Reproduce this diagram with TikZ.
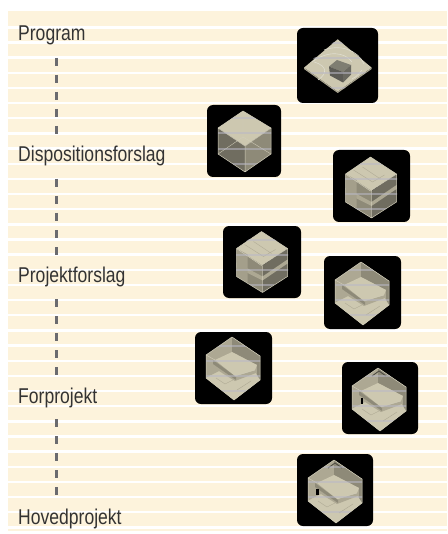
\documentclass[tikz,border=0pt]{standalone}
\usepackage{fontspec}
\setmainfont[FakeStretch=0.82]{Liberation Sans}
\definecolor{paper}{HTML}{FDF3DC}
\definecolor{ink}{HTML}{333333}
\definecolor{spinec}{HTML}{6B6B6F}
\definecolor{lt}{HTML}{CDC8B0}
\definecolor{md}{HTML}{ADA893}
\definecolor{wl}{HTML}{8E8A78}
\definecolor{dk}{HTML}{706D60}
\definecolor{edge}{HTML}{D2CEBA}
\definecolor{band}{HTML}{B9B9C6}
\definecolor{blocktop}{HTML}{7F7E72}
\definecolor{blockleft}{HTML}{5C5B55}
\definecolor{blockright}{HTML}{6A6960}
\tikzset{
 stage/.style={anchor=base west,inner sep=0pt,font=\fontsize{21.4}{23}\selectfont,text=ink},
 imgbox/.style={draw=none,fill=black,rounded corners=6pt,inner sep=0pt},
 spine/.style={draw=spinec,line width=3pt,dash pattern=on 8.4pt off 8.6pt},
 ln/.style={draw=edge,line width=0.5pt,line join=round},
}
% closed translucent cube, centred (#1,#2)
\newcommand{\solidcube}[2]{\begin{scope}[shift={(#1,#2)}]
 \fill[lt] (-1,-31)--(-26,-14)--(1,4)--(27,-14)--cycle;
 \fill[dk] (-26,-14)--(-26,12)--(1,30)--(1,4)--cycle;
 \fill[wl] (27,-14)--(27,12)--(1,30)--(1,4)--cycle;
 \draw[ln] (-1,-31)--(-26,-14)--(-26,12)--(1,30)--(27,12)--(27,-14)--cycle
   (-26,-14)--(1,4)--(27,-14) (1,4)--(1,30);
 \draw[ln,line width=.35pt] (-1,-31)--(-1,-5)--(-26,12) (-1,-5)--(27,12);
\end{scope}}
% cube with a visible floor line
\newcommand{\floorcube}[2]{\begin{scope}[shift={(#1,#2)}]
 \fill[lt] (0,-31)--(-25,-14)--(0,3)--(26,-14)--cycle;
 \fill[wl] (-25,-14)--(-25,14)--(1,30)--(1,3)--cycle;
 \fill[dk] (26,-14)--(26,14)--(1,30)--(1,3)--cycle;
 \fill[md] (-25,0)--(1,14)--(26,-3)--(26,1)--(1,18)--(-25,5)--cycle;
 \fill[md!70!wl] (-25,-14)--(-14,-8)--(-14,20)--(-25,14)--cycle;
 \draw[ln] (0,-31)--(-25,-14)--(-25,14)--(1,30)--(26,14)--(26,-14)--cycle
   (-25,-14)--(0,3)--(26,-14) (1,3)--(1,30);
 \draw[md,line width=.35pt] (-17,-18)--(2,-6)--(14,-13) (-8,-21)--(10,-9);
\end{scope}}
% open room: mezzanine over lower floor
\newcommand{\openroom}[2]{\begin{scope}[shift={(#1,#2)}]
 \fill[md] (-1,-31)--(-27,-13)--(-27,10)--(1,32)--(27,12)--(27,-12)--cycle;
 \fill[wl] (-1,-31)--(27,-12)--(27,12)--(24,9)--(24,-3)--(-1,-16)--cycle;
 \fill[lt] (-27,10)--(-14,2)--(2,12)--(22,4)--(27,12)--(1,32)--cycle;
 \fill[md] (-18,-7)--(2,8)--(22,2)--(23,5)--(2,13)--(-14,3)--(-22,7)--(-22,-3)--cycle;
 \fill[lt] (-1,-16)--(24,-3)--(22,2)--(2,8)--(-18,-8)--cycle;
 \fill[wl] (-20,-8)--(3,9)--(3,12)--(-20,-4)--cycle;
 \draw[ln] (-1,-31)--(-27,-13)--(-27,10)--(1,32)--(27,12)--(27,-12)--cycle;
 \draw[ln,line width=.4pt] (-27,-13)--(-18,-8) (2,8)--(22,2);
 \draw[md,line width=.4pt] (-17,10)--(-8,16)--(0,12) (4,22)--(18,13);
\end{scope}}
\begin{document}
\begin{tikzpicture}[x=1pt,y=-1pt]
\useasboundingbox (0,0) rectangle (447,534);
\fill[white] (0,0) rectangle (447,534);
\fill[paper] (8,11) rectangle (447,531);
\foreach \k in {0,...,33}{
  \pgfmathsetmacro{\yy}{27.4+15.15*\k}
  \fill[white] (8,\yy-1.2) rectangle (447,\yy+1.2);
}
\node[stage] (prog) at (18,40.5) {Program};
\node[stage] (disp) at (18,161.5) {Dispositionsforslag};
\node[stage] (proj) at (18,282.5) {Projektforslag};
\node[stage] (forp) at (18,403) {Forprojekt};
\node[stage] (hove) at (18,524) {Hovedprojekt};
\coordinate (a1) at (56.5,58); \coordinate (b1) at (56.5,134.5);
\coordinate (a2) at (56.5,179); \coordinate (b2) at (56.5,255.5);
\coordinate (a3) at (56.5,299); \coordinate (b3) at (56.5,375.5);
\coordinate (a4) at (56.5,419); \coordinate (b4) at (56.5,495.5);
\draw[spine] (a1)--(b1);
\draw[spine] (a2)--(b2);
\draw[spine] (a3)--(b3);
\draw[spine] (a4)--(b4);
\node[imgbox,minimum width=81pt,minimum height=75pt] (i1) at (337.5,65.5) {};
\node[imgbox,minimum width=74pt,minimum height=72pt] (i2) at (244,141) {};
\node[imgbox,minimum width=77pt,minimum height=72pt] (i3) at (371.5,186) {};
\node[imgbox,minimum width=78pt,minimum height=72pt] (i4) at (262,262) {};
\node[imgbox,minimum width=77pt,minimum height=73pt] (i5) at (362.5,292.5) {};
\node[imgbox,minimum width=77pt,minimum height=72pt] (i6) at (233.5,368) {};
\node[imgbox,minimum width=76pt,minimum height=72pt] (i7) at (380,398) {};
\node[imgbox,minimum width=76pt,minimum height=72pt] (i8) at (335,490) {};
% site with block
\fill[lt] (337.7,39.3)--(304,67.7)--(337.7,91.7)--(371.7,67.7)--cycle;
\fill[md] (304,67.7)--(337.7,91.7)--(371.7,67.7)--(371.7,69)--(337.7,93)--(304,69)--cycle;
\draw[edge!70!white,line width=.6pt] (312,62) .. controls (328,50) and (345,52) .. (352,62)
  (324,50) .. controls (340,44) and (358,50) .. (364,64) (318,80) .. controls (327,74) and (328,66) .. (314,62)
  (352,79) .. controls (358,76) and (360,72) .. (362,70);
\fill[blocktop] (337,60)--(329,66.5)--(343,72)--(351,65)--cycle;
\fill[blockleft] (329,66.5)--(343,72)--(343,82.5)--(330,75.5)--cycle;
\fill[blockright] (343,72)--(351,65)--(351,74.5)--(343,82.5)--cycle;
\solidcube{244}{142}
\floorcube{370.5}{188}
\floorcube{261.5}{262.5}
\openroom{362}{293}
\openroom{233}{368}
% ground-floor rooms with door slit
\openroom{379}{399}
\openroom{335}{491}
\fill[black] (361,398) rectangle (363,404);
\fill[black] (316,489) rectangle (319,495);
\draw[dk!70!black,line width=.9pt] (372,376)--(379,371)--(386,376) (328,468)--(335,463)--(342,468);
% the paper's stripes showing through the light forms
\begin{scope}
\clip (337.5,39)--(303,67)--(338,93)--(372,68)--cycle
 (243,111)--(218,128)--(218,154)--(245,172)--(271,154)--(271,128)--cycle
 (370,157)--(345,174)--(345,202)--(371,218)--(397,202)--(397,174)--cycle
 (261,231)--(236,248)--(236,276)--(262,292)--(288,276)--(288,248)--cycle
 (361,262)--(335,280)--(335,303)--(363,325)--(389,305)--(389,281)--cycle
 (232,337)--(206,355)--(206,378)--(234,400)--(260,380)--(260,356)--cycle
 (378,368)--(352,386)--(352,409)--(380,431)--(406,411)--(406,387)--cycle
 (334,460)--(308,478)--(308,501)--(336,523)--(362,503)--(362,479)--cycle;
\foreach \k in {0,...,33}{
  \pgfmathsetmacro{\yy}{27.4+15.15*\k}
  \fill[band,opacity=.55] (190,\yy-1) rectangle (447,\yy+1);
}
\end{scope}
\end{tikzpicture}
\end{document}
